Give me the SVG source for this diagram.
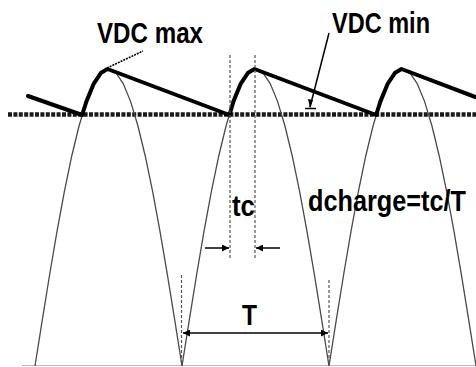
<svg xmlns="http://www.w3.org/2000/svg" width="476" height="367" viewBox="0 0 476 367">
<defs>
<style>
.arch{fill:none;stroke:#4a4a4a;stroke-width:1.3}
.env{fill:none;stroke:#000;stroke-width:4;stroke-linejoin:round;stroke-linecap:round}
.vdash{fill:none;stroke:#555;stroke-width:1.2;stroke-dasharray:3 2}
.arr{fill:none;stroke:#000;stroke-width:1.5}
.lbl{font-family:"Liberation Sans",Arial,sans-serif;font-weight:bold;font-size:29px;fill:#000}
</style>
<marker id="ah" viewBox="0 0 10 10" refX="10" refY="5" markerWidth="7" markerHeight="7" markerUnits="userSpaceOnUse" orient="auto-start-reverse">
<path d="M0,0 L10,5 L0,10 z" fill="#000"/>
</marker>
</defs>
<rect width="476" height="367" fill="#fff"/>
<g id="axes">
<line x1="22" y1="365.5" x2="476" y2="365.5" stroke="#bbb" stroke-width="1.2"/>
<line x1="8" y1="114.5" x2="476" y2="114.5" stroke="#1a1a1a" stroke-width="4.5" stroke-dasharray="4 1.4"/>
</g>
<g id="arches">
<polyline class="arch" points="35,366 42.35,319.55 49.7,274.23 57.05,231.16 64.4,191.42 71.75,155.99 79.1,125.73 86.45,101.37 93.8,83.52 101.15,72.65 108.5,69 115.85,72.65 123.2,83.52 130.55,101.37 137.9,125.73 145.25,155.99 152.6,191.42 159.95,231.16 167.3,274.23 174.65,319.55 182,366"/>
<polyline class="arch" transform="translate(147,0)" points="35,366 42.35,319.55 49.7,274.23 57.05,231.16 64.4,191.42 71.75,155.99 79.1,125.73 86.45,101.37 93.8,83.52 101.15,72.65 108.5,69 115.85,72.65 123.2,83.52 130.55,101.37 137.9,125.73 145.25,155.99 152.6,191.42 159.95,231.16 167.3,274.23 174.65,319.55 182,366"/>
<polyline class="arch" transform="translate(294,0)" points="35,366 42.35,319.55 49.7,274.23 57.05,231.16 64.4,191.42 71.75,155.99 79.1,125.73 86.45,101.37 93.8,83.52 101.15,72.65 108.5,69 115.85,72.65 123.2,83.52 130.55,101.37 137.9,125.73 145.25,155.99 152.6,191.42 159.95,231.16 167.3,274.23 174.65,319.55 182,366"/>
</g>
<g id="envelope">
<path class="env" d="M28,96 L82.1,115 L86.45,101.37 L93.8,83.52 L101.15,72.65 L107.5,69 L229.5,115 L233.45,101.37 L240.8,83.52 L248.15,72.65 L254.5,69 L376.1,115 L380.45,101.37 L387.8,83.52 L395.15,72.65 L401.5,69 L478,98"/>
</g>
<g id="connectors">
<line class="vdash" x1="230" y1="55" x2="230" y2="258"/>
<line class="vdash" x1="255" y1="55" x2="255" y2="258"/>
<line class="vdash" x1="181.5" y1="275" x2="181.5" y2="366"/>
<line class="vdash" x1="329" y1="280" x2="329" y2="366"/>
<line class="arr" x1="205" y1="248" x2="229" y2="248" marker-end="url(#ah)"/>
<line class="arr" x1="280" y1="248" x2="256" y2="248" marker-end="url(#ah)"/>
<line class="arr" x1="183" y1="333" x2="328" y2="333" marker-start="url(#ah)" marker-end="url(#ah)"/>
<line x1="107" y1="68" x2="143" y2="51" stroke="#000" stroke-width="1.6" stroke-dasharray="2 1"/>
<line x1="329" y1="33" x2="310" y2="107" stroke="#000" stroke-width="1.5"/>
<path d="M308,99 L313,100 L310,108 z" fill="#000"/>
<line x1="305" y1="108.5" x2="316" y2="108.5" stroke="#000" stroke-width="1.5"/>
</g>
<g id="labels">
<text class="lbl" x="97" y="43" textLength="106" lengthAdjust="spacingAndGlyphs">VDC max</text>
<text class="lbl" x="332" y="33" textLength="98" lengthAdjust="spacingAndGlyphs">VDC min</text>
<text class="lbl" x="232" y="216" textLength="23" lengthAdjust="spacingAndGlyphs">tc</text>
<text class="lbl" x="308" y="211" textLength="158" lengthAdjust="spacingAndGlyphs">dcharge=tc/T</text>
<text class="lbl" x="242" y="325" textLength="15" lengthAdjust="spacingAndGlyphs">T</text>
</g>
</svg>
